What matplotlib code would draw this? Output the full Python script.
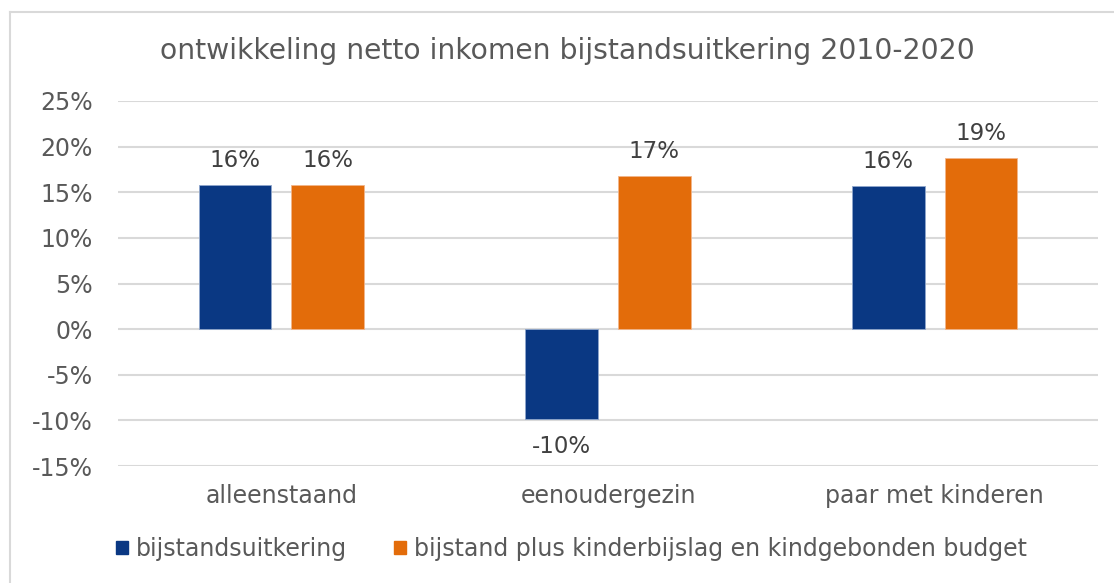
import matplotlib.pyplot as plt
from matplotlib.lines import Line2D
from matplotlib.patches import Patch
import numpy as np

# data
categories = ['alleenstaand', 'eenoudergezin', 'paar met kinderen']
series_names = ['bijstandsuitkering', 'bijstand plus kinderbijslag en kindgebonden budget']
bijstand = [15.8, -9.8, 15.7]
bijstand_plus = [15.8, 16.8, 18.8]
labels_bijstand = ['16%', '-10%', '16%']
labels_plus = ['16%', '17%', '19%']
yticks = [-15, -10, -5, 0, 5, 10, 15, 20, 25]

blue = '#0a3883'
orange = '#e36c0a'
txt = '#595959'
plt.rcParams['font.family'] = 'DejaVu Sans'

fig = plt.figure(figsize=(11.14, 5.83), dpi=100)
ax = fig.add_axes([118/1114, 1-466/583, (1098-118)/1114, (466-101)/583])

x = np.arange(len(categories))
w = 0.222
off = 0.142
b1 = ax.bar(x - off, bijstand, w, color=blue, edgecolor='#8fa6cc', linewidth=0.6, zorder=3)
b2 = ax.bar(x + off, bijstand_plus, w, color=orange, edgecolor='#f2b58a', linewidth=0.6, zorder=3)

# data labels
for rect, val, lab in zip(b1, bijstand, labels_bijstand):
    cx = rect.get_x() + rect.get_width()/2
    if val >= 0:
        ax.annotate(lab, (cx, val), xytext=(0, 9), textcoords='offset points',
                    ha='center', va='bottom', fontsize=16.5, color='#404040')
    else:
        ax.annotate(lab, (cx, val), xytext=(0, -12), textcoords='offset points',
                    ha='center', va='top', fontsize=16.5, color='#404040')
for rect, val, lab in zip(b2, bijstand_plus, labels_plus):
    cx = rect.get_x() + rect.get_width()/2
    ax.annotate(lab, (cx, val), xytext=(0, 9), textcoords='offset points',
                ha='center', va='bottom', fontsize=16.5, color='#404040')

ax.set_xlim(-0.5, 2.5)
ax.set_ylim(-15, 25)
ax.set_yticks(yticks)
ax.set_yticklabels([f'{t}%' for t in yticks], fontsize=17, color=txt)
ax.set_xticks(x)
ax.set_xticklabels(categories, fontsize=17, color=txt)
ax.tick_params(axis='both', length=0)
ax.tick_params(axis='y', pad=18)
ax.tick_params(axis='x', pad=13)
ax.grid(axis='y', color='#d9d9d9', linewidth=1.5, zorder=0)
for s in ax.spines.values():
    s.set_visible(False)

fig.text(0.5094, 1-51/583, 'ontwikkeling netto inkomen bijstandsuitkering 2010-2020',
         ha='center', va='center', fontsize=20.3, color=txt)

handles = [Patch(color=blue), Patch(color=orange)]
fig.legend(handles, series_names, loc='center', bbox_to_anchor=(0.513, 1-549/583),
           ncol=2, frameon=False, fontsize=17, handlelength=0.51, handleheight=0.51,
           handletextpad=0.34, columnspacing=2.0, labelcolor=txt)

# chart frame (top and left edges visible)
fig.add_artist(Line2D([10/1114, 1], [1-12/583, 1-12/583], color='#d9d9d9', linewidth=1.5))
fig.add_artist(Line2D([10/1114, 10/1114], [0, 1-12/583], color='#d9d9d9', linewidth=1.5))

fig.savefig('out.png', dpi=100)
